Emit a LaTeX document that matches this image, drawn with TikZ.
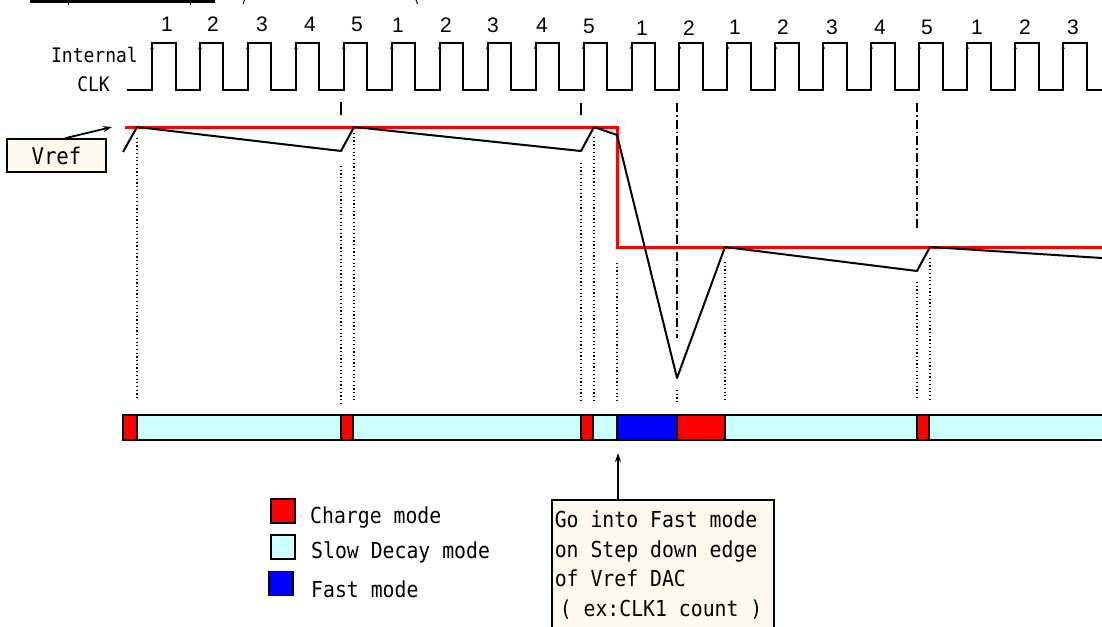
\documentclass[tikz,border=0pt]{standalone}
\usepackage{fontspec}
\setmainfont{Liberation Sans}
\newfontfamily\monofont[FakeStretch=0.9]{DejaVu Sans Mono}
\usetikzlibrary{arrows.meta}

\definecolor{chargered}{HTML}{FF0000}
\definecolor{slowcyan}{HTML}{CCFFFF}
\definecolor{fastblue}{HTML}{0000FF}
\definecolor{cream}{HTML}{FFF9EE}

\begin{document}
\begin{tikzpicture}[x=1pt,y=-1pt,
  clk/.style={line width=2pt, line join=miter},
  edgetick/.style={line width=0.8pt, -{Stealth[length=4pt,width=3.5pt]}},
  clknum/.style={font=\fontsize{21}{25}\selectfont, inner sep=0pt},
  sigtext/.style={font=\monofont\fontsize{20}{24}\selectfont, inner sep=0pt},
  vrefline/.style={line width=3pt, chargered, line join=miter},
  sense/.style={line width=2pt, line join=round},
  dots/.style={line width=1.2pt, dash pattern=on 1.2pt off 2.5pt},
  dashdot/.style={line width=1.8pt, dash pattern=on 9pt off 3pt on 1.5pt off 3pt},
  tick/.style={line width=2pt},
  seg/.style={draw=black, line width=1.5pt},
  modecharge/.style={seg, fill=chargered},
  modeslow/.style={seg, fill=slowcyan},
  modefast/.style={seg, fill=fastblue},
  labelbox/.style={draw=black, line width=1.5pt, fill=cream},
  legendsq/.style={draw=black, line width=1.5pt, minimum width=24pt, minimum height=24pt, inner sep=0pt},
  legtext/.style={font=\monofont\fontsize{22}{26}\selectfont, inner sep=0pt, anchor=base west},
  pointer/.style={line width=1.8pt, -{Stealth[length=9pt,width=6pt]}}
]
\useasboundingbox (0,0) rectangle (1102,626);

% heading remnants at the top edge
\draw[line width=2.6pt] (30,1.3) -- (215,1.3);
\draw[line width=1pt] (68,2) -- (68,5);
\draw[line width=1pt] (190,2) -- (190,5);
\draw[line width=1pt] (244.5,0) -- (243,4);
\draw[line width=1pt] (416,0) -- (417.5,4);

% internal clock waveform
\draw[clk] (127,90) \foreach \i in {0,...,19}{ -- ({152+47.95*\i},90) -- ++(0,-47) -- ++(23.5,0) -- ++(0,47)} -- (1102,90);
\foreach \i in {0,...,19}
  \draw[edgetick] ({152+47.95*\i},60) -- ({152+47.95*\i},45);

% clock count labels
\foreach \n/\x/\y [count=\k] in {1/167/24, 2/213/24, 3/262/24, 4/310/24, 5/357/24,
    1/398/25, 2/446/25, 3/493/25, 4/542/25, 5/589/26,
    1/642/28, 2/689/28,
    1/735/27, 2/783/27, 3/832/27, 4/880/27, 5/927/27, 1/977/27, 2/1025/27, 3/1073/27}
  \node[clknum] (cnt\k) at (\x,\y) {\n};

\node[sigtext, anchor=base east] (lblint) at (138,63) {Internal};
\node[sigtext, anchor=base east] (lblclk) at (110,91) {CLK};

% markers under the clock
\draw[tick] (341,102) -- (341,115);
\draw[tick] (581,103) -- (581,115);
\draw[dashdot] (677,103) -- (677,338);
\draw[dashdot] (917,103) -- (917,228);

% Vref DAC level
\draw[vrefline] (125,127) -- (617,127) -- (617,247) -- (1102,247);

% sensed signal
\draw[sense] (123,152) -- (137,127) -- (341,151) -- (354,127) -- (581,151)
  -- (594,127) -- (617,135) -- (677,378) -- (725,247) -- (917,271)
  -- (930,247) -- (1102,258);

% dotted guides down to the mode bar
\foreach \x/\ya/\yb in {137/138/400, 341/166/403, 354/133/400, 581/163/402,
    594/137/402, 617/263/403, 677/390/403, 725/262/400, 917/282/400, 930/258/400}
  \draw[dots] (\x,\ya) -- (\x,\yb);

% mode bar
\foreach \xa/\xb/\m in {123/137/modecharge, 137/341/modeslow, 341/353/modecharge,
    353/581/modeslow, 581/593/modecharge, 593/617/modeslow, 617/677/modefast,
    677/725/modecharge, 725/917/modeslow, 917/929/modecharge, 929/1103/modeslow}
  \draw[\m] (\xa,415) rectangle (\xb,440);

% Vref label
\node[labelbox, minimum width=99pt, minimum height=33pt, inner sep=0pt,
      font=\monofont\fontsize{23}{27}\selectfont] (vref) at (56.5,155.5) {Vref};
\coordinate (vreftip) at (112,127);
\draw[pointer] ([xshift=8.5pt]vref.north) -- (vreftip);

% legend
\node[legendsq, fill=chargered] (sqcharge) at (283,511) {};
\node[legendsq, fill=slowcyan] (sqslow) at (283,547) {};
\node[legendsq, fill=fastblue] (sqfast) at (281,583.5) {};
\node[legtext] (txcharge) at (310,523) {Charge mode};
\node[legtext] (txslow) at (311,558) {Slow Decay mode};
\node[legtext] (txfast) at (311,597) {Fast mode};

% note on the fast mode entry (monospaced word spaces kept)
\node[labelbox, anchor=north west, text width=216pt, inner xsep=3pt, inner ysep=11pt,
      align=left, font=\monofont\fontsize{22}{29.7}\selectfont] (note) at (551,499)
  {\spaceskip=0pt\xspaceskip=0pt\relax
   Go into Fast mode\\on Step down edge\\of Vref DAC\\\hspace*{5pt}( ex:CLK1 count )};
\coordinate (fastedge) at (618,453);
\draw[line width=1.8pt, -{Stealth[length=9pt,width=6pt]}] (note.north -| fastedge) -- (fastedge);

\end{tikzpicture}
\end{document}
